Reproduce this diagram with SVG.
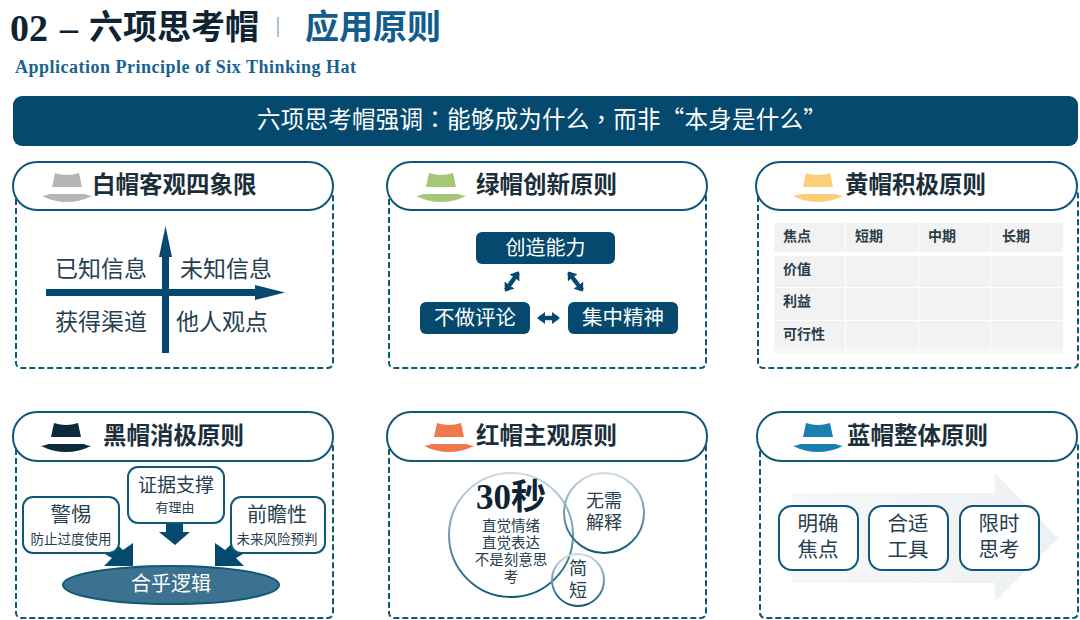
<svg xmlns="http://www.w3.org/2000/svg" width="1080" height="620" viewBox="0 0 1080 620">
<style>
text{font-family:"Liberation Serif","Noto Sans CJK SC",serif;}
.cjk{font-family:"Noto Sans CJK SC","Noto Sans CJK JP",sans-serif;}
.tc{font-family:"Noto Sans CJK TC","Noto Sans CJK SC",sans-serif;}
.pill{fill:#fff;stroke:#0f5878;stroke-width:2;}
.dash{fill:#fff;stroke:#0f5878;stroke-width:2;stroke-dasharray:6 3;}
.ttl{font-size:23.5px;font-weight:700;fill:#1b2f3b;}
.t{fill:#27404e;text-anchor:middle;}
.w{fill:#fff;text-anchor:middle;}
.dk{fill:#054a6e;}
.box{fill:#fff;stroke:#0f5878;stroke-width:2;}
.cell{fill:#f2f2f2;}
.th{font-size:14px;font-weight:700;fill:#2a3d49;}
.conn{stroke:#054a6e;stroke-width:4.5;fill:none;marker-start:url(#dbl);marker-end:url(#dbl);}
</style>
<defs>
<marker id="dbl" markerUnits="userSpaceOnUse" markerWidth="8" markerHeight="12" refX="6" refY="6" orient="auto-start-reverse"><path d="M0 0L8 6L0 12Z" fill="#054a6e"/></marker>
<linearGradient id="ring" x1="0" y1="0" x2="0" y2="1"><stop offset="0" stop-color="#cbdce5"/><stop offset="1" stop-color="#0f5878"/></linearGradient>
<linearGradient id="big" x1="0" y1="0" x2="1" y2="0"><stop offset="0" stop-color="#f6f7f8"/><stop offset="1" stop-color="#edf0f2"/></linearGradient>
<linearGradient id="fade" x1="0" y1="0" x2="0" y2="1"><stop offset="0.7" stop-color="#f2f2f2"/><stop offset="1" stop-color="#f9f9f9"/></linearGradient>
<g id="hat">
<path d="M10 16L13 2Q19 4 25 4Q31 4 37 2L40 16Z" fill="currentColor"/>
<path d="M10 16L40 16L43 24L7 24Z" fill="#fff"/>
<path d="M0 25Q6 24 7 23L43 23Q44 24 50 25Q38 31 25 31Q12 31 0 25Z" fill="currentColor"/>
</g>
</defs>
<rect width="1080" height="620" fill="#fff"/>

<g id="header">
<text x="10" y="41" font-size="38" font-weight="700" fill="#0e2432">02</text>
<text x="60" y="40" font-size="36" font-weight="700" fill="#0e2432">–</text>
<text class="cjk" x="89" y="39" font-size="34" font-weight="700" fill="#0e2432">六项思考帽</text>
<rect x="277" y="17" width="2" height="20" fill="#a9c4d3"/>
<text class="cjk" x="305" y="39" font-size="34" font-weight="700" fill="#125c8e">应用原则</text>
<text x="15" y="73" font-size="18" font-weight="700" fill="#17628f" textLength="341">Application Principle of Six Thinking Hat</text>
</g>
<g id="banner">
<rect x="13" y="96" width="1065" height="50" rx="9" fill="#054a6e"/>
<text class="cjk w" x="542" y="128" font-size="23.5" letter-spacing="0.25">六项思考帽强调<tspan class="tc">：</tspan>能够成为什么<tspan class="tc">，</tspan>而非“本身是什么”</text>
</g>

<g id="white-hat">
<rect class="dash" x="16" y="190" width="317" height="178" rx="5"/>
<rect class="pill" x="13" y="162" width="320" height="48" rx="24"/>
<use href="#hat" x="42" y="171" color="#b5b5b5"/>
<text class="cjk ttl" x="92" y="193">白帽客观四象限</text>
<path class="dk" d="M162 353V257H159L165.500 226L172 257H169V353Z"/>
<path class="dk" d="M46 289H255V285L285 292.500L255 300V296H46Z"/>
<g class="cjk" font-size="23">
<text class="t" x="101" y="277">已知信息</text>
<text class="t" x="226" y="277">未知信息</text>
<text class="t" x="101" y="330">获得渠道</text>
<text class="t" x="222" y="330">他人观点</text>
</g>
</g>

<g id="green-hat">
<rect class="dash" x="389" y="190" width="317" height="178" rx="5"/>
<rect class="pill" x="387" y="162" width="320" height="48" rx="24"/>
<use href="#hat" x="416" y="171" color="#a5c878"/>
<text class="cjk ttl" x="476" y="193">绿帽创新原则</text>
<rect class="dk" x="476" y="232" width="139" height="32" rx="6"/>
<text class="cjk w" x="545.500" y="255" font-size="20">创造能力</text>
<rect class="dk" x="420" y="302" width="110" height="32" rx="6"/>
<text class="cjk w" x="475" y="325" font-size="20.500">不做评论</text>
<rect class="dk" x="568" y="302" width="110" height="32" rx="6"/>
<text class="cjk w" x="623" y="325" font-size="20.500">集中精神</text>
</g>

<g id="yellow-hat">
<rect class="dash" x="758" y="190" width="320" height="178" rx="5"/>
<rect class="pill" x="756" y="162" width="321" height="48" rx="24"/>
<use href="#hat" x="793" y="171" color="#fbcf7a"/>
<text class="cjk ttl" x="845" y="193">黄帽积极原则</text>
<rect class="cell" x="774" y="223" width="71" height="29"/><rect class="cell" x="846" y="223" width="72" height="29"/><rect class="cell" x="919" y="223" width="71" height="29"/><rect class="cell" x="991" y="223" width="72" height="29"/>
<rect class="cell" x="774" y="256" width="71" height="31"/><rect class="cell" x="846" y="256" width="72" height="31"/><rect class="cell" x="919" y="256" width="71" height="31"/><rect class="cell" x="991" y="256" width="72" height="31"/>
<rect class="cell" x="774" y="288" width="71" height="32"/><rect class="cell" x="846" y="288" width="72" height="32"/><rect class="cell" x="919" y="288" width="71" height="32"/><rect class="cell" x="991" y="288" width="72" height="32"/>
<rect fill="url(#fade)" x="774" y="321" width="71" height="33"/><rect fill="url(#fade)" x="846" y="321" width="72" height="33"/><rect fill="url(#fade)" x="919" y="321" width="71" height="33"/><rect fill="url(#fade)" x="991" y="321" width="72" height="33"/>
<g class="cjk">
<text class="th" x="783" y="241">焦点</text><text class="th" x="855" y="241">短期</text><text class="th" x="928" y="241">中期</text><text class="th" x="1002" y="241">长期</text>
<text class="th" x="783" y="274">价值</text><text class="th" x="783" y="306">利益</text><text class="th" x="783" y="339">可行性</text>
</g>
</g>

<g id="black-hat">
<rect class="dash" x="16" y="440" width="317" height="178" rx="5"/>
<rect class="pill" x="13" y="412" width="320" height="49" rx="24"/>
<use href="#hat" x="41" y="421" color="#0c2a3c"/>
<text class="cjk ttl" x="103" y="444">黑帽消极原则</text>
<path class="dk" d="M166 523H183V532H190L175 545L159 532H166Z"/>
<path class="dk" d="M133 566V543L123 550L110 538L98 550L112 558L104 566Z"/>
<path class="dk" d="M215 566V543L225 550L238 538L250 550L236 558L244 566Z"/>
<rect class="box" x="128" y="467" width="96" height="56" rx="10"/>
<text class="cjk t" x="176" y="492" font-size="19">证据支撑</text>
<text class="cjk t" x="175" y="512" font-size="13">有理由</text>
<rect class="box" x="23" y="497" width="96" height="56" rx="10"/>
<text class="cjk t" x="71" y="522" font-size="20.500">警惕</text>
<text class="cjk t" x="71" y="544" font-size="13.500">防止过度使用</text>
<rect class="box" x="231" y="497" width="94" height="56" rx="10"/>
<text class="cjk t" x="277" y="522" font-size="20">前瞻性</text>
<text class="cjk t" x="277" y="544" font-size="13.500">未来风险预判</text>
<ellipse cx="171" cy="585" rx="108" ry="19" fill="#3c7290" stroke="#0f5878" stroke-width="2"/>
<text class="cjk w" x="171" y="591" font-size="20">合乎逻辑</text>
</g>

<g id="red-hat">
<rect class="dash" x="389" y="440" width="317" height="178" rx="5"/>
<rect class="pill" x="387" y="412" width="320" height="49" rx="24"/>
<use href="#hat" x="424" y="421" color="#f0784f"/>
<text class="cjk ttl" x="476" y="444">红帽主观原则</text>
<circle cx="511" cy="535" r="62" fill="none" stroke="url(#ring)" stroke-width="2"/>
<circle cx="604" cy="513" r="40" fill="none" stroke="url(#ring)" stroke-width="2"/>
<circle cx="578" cy="580" r="26" fill="none" stroke="url(#ring)" stroke-width="2"/>
<text class="t" x="511" y="509" font-size="35" font-weight="700" style="fill:#0e2432">30<tspan class="cjk">秒</tspan></text>
<g class="cjk" font-size="14.500">
<text class="t" x="511" y="531">直觉情绪</text>
<text class="t" x="511" y="548">直觉表达</text>
<text class="t" x="511" y="565">不是刻意思</text>
<text class="t" x="511" y="582">考</text>
</g>
<g class="cjk" font-size="18">
<text class="t" x="604" y="507">无需</text>
<text class="t" x="604" y="529">解释</text>
<text class="t" x="578" y="575">简</text>
<text class="t" x="578" y="597">短</text>
</g>
</g>

<g id="blue-hat">
<rect class="dash" x="760" y="440" width="318" height="178" rx="5"/>
<rect class="pill" x="757" y="412" width="320" height="49" rx="24"/>
<use href="#hat" x="793" y="421" color="#1a7fb0"/>
<text class="cjk ttl" x="847" y="444">蓝帽整体原则</text>
<path fill="url(#big)" d="M792 493H995V473L1058 538L995 602V583H792Z"/>
<g class="cjk" font-size="20.500">
<rect class="box" x="779" y="506" width="79" height="64" rx="13"/>
<text class="t" x="818" y="531">明确</text><text class="t" x="818" y="557">焦点</text>
<rect class="box" x="869" y="506" width="79" height="64" rx="13"/>
<text class="t" x="908" y="531">合适</text><text class="t" x="908" y="557">工具</text>
<rect class="box" x="960" y="506" width="79" height="64" rx="13"/>
<text class="t" x="999" y="531">限时</text><text class="t" x="999" y="557">思考</text>
</g>
</g>

<g id="connectors">
<line class="conn" x1="518" y1="273" x2="506" y2="290"/>
<line class="conn" x1="569" y1="273" x2="582" y2="290"/>
<line class="conn" x1="539" y1="318" x2="558" y2="318"/>
</g>
</svg>
